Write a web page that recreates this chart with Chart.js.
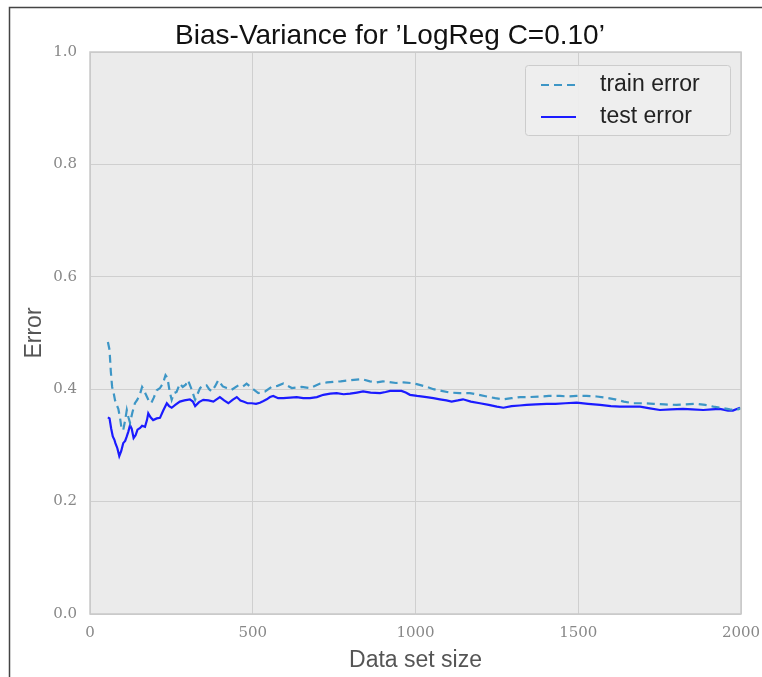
<!DOCTYPE html>
<html>
<head>
<meta charset="utf-8">
<title>Bias-Variance</title>
<script src="https://cdn.jsdelivr.net/npm/chart.js@4.4.1/dist/chart.umd.min.js"></script>
<style>
  html, body { margin: 0; padding: 0; background: #fff; }
  #wrap { width: 762px; height: 677px; position: relative; }
</style>
</head>
<body>
<div id="wrap"><canvas id="chart" width="762" height="677"></canvas></div>
<script>
// values (data set size -> error)
const trainX = [55, 60, 64, 68, 72, 77, 82, 87, 92, 97, 102, 108, 113, 118, 123, 130, 138, 145, 154, 160,
  166, 172, 180, 188, 196, 205, 215, 224, 232, 238, 245, 251, 258, 266, 276, 285, 294, 301, 312, 323,
  338, 348, 358, 366, 374, 384, 394, 408, 420, 435, 456, 470, 481, 497, 517, 538, 558, 576, 594, 620,
  650, 676, 707, 728, 748, 770, 799, 835, 860, 881, 900, 917, 940, 963, 985, 1004, 1030, 1055, 1080, 1106,
  1135, 1167, 1195, 1219, 1245, 1270, 1295, 1321, 1350, 1382, 1410, 1444, 1470, 1495, 1525, 1557, 1585, 1613, 1640, 1669,
  1700, 1731, 1765, 1802, 1830, 1864, 1890, 1915, 1940, 1966, 1985, 2000];
const trainErr = [0.484, 0.470, 0.431, 0.404, 0.395, 0.380, 0.372, 0.365, 0.350, 0.330, 0.327, 0.345, 0.363, 0.350, 0.340, 0.358, 0.375, 0.381, 0.392, 0.404,
  0.398, 0.390, 0.380, 0.375, 0.385, 0.398, 0.402, 0.410, 0.425, 0.420, 0.395, 0.381, 0.393, 0.395, 0.410, 0.404, 0.408, 0.416, 0.400, 0.381,
  0.402, 0.407, 0.407, 0.400, 0.396, 0.405, 0.416, 0.405, 0.402, 0.399, 0.407, 0.405, 0.410, 0.402, 0.393, 0.396, 0.404, 0.406, 0.410, 0.402,
  0.404, 0.402, 0.410, 0.412, 0.413, 0.414, 0.416, 0.418, 0.414, 0.412, 0.414, 0.413, 0.411, 0.412, 0.411, 0.409, 0.405, 0.400, 0.397, 0.394,
  0.393, 0.393, 0.390, 0.387, 0.384, 0.382, 0.384, 0.386, 0.386, 0.387, 0.388, 0.388, 0.387, 0.388, 0.388, 0.387, 0.385, 0.382, 0.378, 0.375,
  0.375, 0.374, 0.373, 0.372, 0.373, 0.374, 0.372, 0.369, 0.367, 0.364, 0.363, 0.366];

const testX = [55, 60, 65, 70, 75, 78, 84, 90, 96, 102, 108, 113, 118, 123, 128, 134, 140, 146, 154, 160,
  169, 175, 179, 186, 194, 205, 215, 225, 236, 243, 251, 262, 276, 290, 307, 316, 323, 335, 348, 364,
  379, 389, 399, 412, 425, 438, 451, 462, 471, 484, 497, 510, 522, 533, 543, 553, 563, 578, 594, 615,
  635, 655, 676, 697, 717, 738, 758, 779, 799, 820, 839, 862, 891, 908, 922, 940, 957, 970, 983, 1005,
  1034, 1055, 1075, 1095, 1111, 1130, 1146, 1170, 1198, 1225, 1250, 1270, 1295, 1320, 1341, 1370, 1403, 1430, 1460, 1495,
  1530, 1567, 1600, 1628, 1660, 1690, 1720, 1751, 1785, 1822, 1850, 1884, 1910, 1935, 1960, 1975, 1997];
const testErr = [0.350, 0.348, 0.330, 0.316, 0.310, 0.304, 0.295, 0.281, 0.290, 0.304, 0.308, 0.316, 0.325, 0.336, 0.330, 0.313, 0.318, 0.328, 0.331, 0.335,
  0.333, 0.345, 0.357, 0.350, 0.345, 0.348, 0.349, 0.362, 0.375, 0.370, 0.367, 0.372, 0.378, 0.380, 0.382, 0.378, 0.370, 0.377, 0.381, 0.380,
  0.378, 0.382, 0.386, 0.380, 0.375, 0.381, 0.386, 0.380, 0.378, 0.375, 0.375, 0.374, 0.376, 0.379, 0.382, 0.386, 0.388, 0.384, 0.384, 0.385,
  0.386, 0.384, 0.384, 0.386, 0.390, 0.392, 0.393, 0.391, 0.392, 0.394, 0.396, 0.394, 0.393, 0.395, 0.397, 0.397, 0.397, 0.394, 0.390, 0.388,
  0.386, 0.384, 0.382, 0.380, 0.378, 0.380, 0.382, 0.378, 0.375, 0.372, 0.369, 0.367, 0.370, 0.371, 0.372, 0.373, 0.374, 0.374, 0.375, 0.376,
  0.374, 0.372, 0.370, 0.369, 0.369, 0.369, 0.366, 0.363, 0.364, 0.365, 0.364, 0.363, 0.364, 0.365, 0.362, 0.362, 0.367];

const xTicks = [0, 500, 1000, 1500, 2000];
const yTicks = [0.0, 0.2, 0.4, 0.6, 0.8, 1.0];
const seriesLabels = ['train error', 'test error'];
const titleText = 'Bias-Variance for \u2019LogReg C=0.10\u2019';

(function () {
  const TRAIN_COLOR = '#3d96c6';
  const TEST_COLOR = '#1b1bff';
  const SANS = '"Liberation Sans", Arial, sans-serif';
  const SERIF = '"DejaVu Serif", "Liberation Serif", serif';

  function toPoints(xs, ys) {
    return xs.map((x, i) => ({ x: x, y: ys[i] }));
  }

  // grey plot background + frame, figure border lines
  const frame = {
    id: 'frame',
    beforeDraw(chart) {
      const { ctx, chartArea: a } = chart;
      ctx.save();
      ctx.fillStyle = '#ebebeb';
      ctx.fillRect(a.left, a.top, a.right - a.left, a.bottom - a.top);
      ctx.strokeStyle = '#444';
      ctx.lineWidth = 1.5;
      ctx.beginPath();
      ctx.moveTo(9.5, 677);
      ctx.lineTo(9.5, 7.5);
      ctx.lineTo(762, 7.5);
      ctx.stroke();
      ctx.restore();
    },
    afterDatasetsDraw(chart) {
      const { ctx, chartArea: a } = chart;
      ctx.save();
      ctx.strokeStyle = '#c9c9c9';
      ctx.lineWidth = 1.5;
      ctx.strokeRect(a.left, a.top, a.right - a.left, a.bottom - a.top);
      ctx.restore();
    }
  };

  // matplotlib-like legend box inside the axes (upper right)
  const boxLegend = {
    id: 'boxLegend',
    afterDraw(chart) {
      const { ctx } = chart;
      const x = 525, y = 65, w = 205, h = 70;
      ctx.save();
      ctx.fillStyle = 'rgba(238,238,238,0.9)';
      ctx.strokeStyle = '#cccccc';
      ctx.lineWidth = 1;
      ctx.beginPath();
      ctx.roundRect(x + 0.5, y + 0.5, w, h, 3);
      ctx.fill();
      ctx.stroke();
      chart.data.datasets.forEach((ds, i) => {
        const cy = 85 + i * 32;
        ctx.strokeStyle = ds.borderColor;
        ctx.lineWidth = ds.borderWidth;
        ctx.setLineDash(ds.borderDash || []);
        ctx.beginPath();
        ctx.moveTo(541, cy);
        ctx.lineTo(576, cy);
        ctx.stroke();
        ctx.setLineDash([]);
        ctx.fillStyle = '#222';
        ctx.font = '23px ' + SANS;
        ctx.textBaseline = 'middle';
        ctx.textAlign = 'left';
        ctx.fillText(ds.label, 600, cy);
      });
      ctx.restore();
    }
  };

  new Chart(document.getElementById('chart'), {
    type: 'line',
    data: {
      datasets: [
        { label: seriesLabels[0], data: toPoints(trainX, trainErr), borderColor: TRAIN_COLOR, borderWidth: 2.2, borderDash: [8, 5], pointRadius: 0, tension: 0, fill: false },
        { label: seriesLabels[1], data: toPoints(testX, testErr), borderColor: TEST_COLOR, borderWidth: 2.2, pointRadius: 0, tension: 0, fill: false }
      ]
    },
    options: {
      responsive: false,
      animation: false,
      layout: { padding: { left: 0, top: 52, right: 21, bottom: 0 } },
      plugins: {
        legend: { display: false },
        tooltip: { enabled: false },
        title: { display: false }
      },
      scales: {
        x: {
          type: 'linear', min: 0, max: 2000,
          afterBuildTicks: s => { s.ticks = xTicks.map(v => ({ value: v })); },
          afterFit: s => { s.height = 63; s.paddingLeft = 0; s.paddingRight = 0; },
          grid: { color: '#cfcfcf', lineWidth: 1, drawTicks: false },
          border: { display: false },
          ticks: { padding: 10, color: '#888', font: { family: SERIF, size: 15 }, callback: v => String(v) },
          title: { display: true, text: 'Data set size', color: '#555', font: { family: SANS, size: 23 }, padding: { top: 0, bottom: 3 } }
        },
        y: {
          type: 'linear', min: 0, max: 1,
          afterBuildTicks: s => { s.ticks = yTicks.map(v => ({ value: v })); },
          afterFit: s => { s.width = 90; s.paddingTop = 0; s.paddingBottom = 0; },
          grid: { color: '#cfcfcf', lineWidth: 1, drawTicks: false },
          border: { display: false },
          ticks: { padding: 13, color: '#888', font: { family: SERIF, size: 15 }, callback: v => v.toFixed(1) },
          title: { display: true, text: 'Error', color: '#555', font: { family: SANS, size: 23 }, padding: { top: 21, bottom: 0 } }
        }
      }
    },
    plugins: [frame, boxLegend, {
      id: 'figTitle',
      afterDraw(chart) {
        const { ctx } = chart;
        ctx.save();
        ctx.fillStyle = '#111';
        ctx.font = '28px ' + SANS;
        ctx.textAlign = 'center';
        ctx.textBaseline = 'middle';
        ctx.fillText(titleText, 390, 36);
        ctx.restore();
      }
    }]
  });
})();
</script>
</body>
</html>
